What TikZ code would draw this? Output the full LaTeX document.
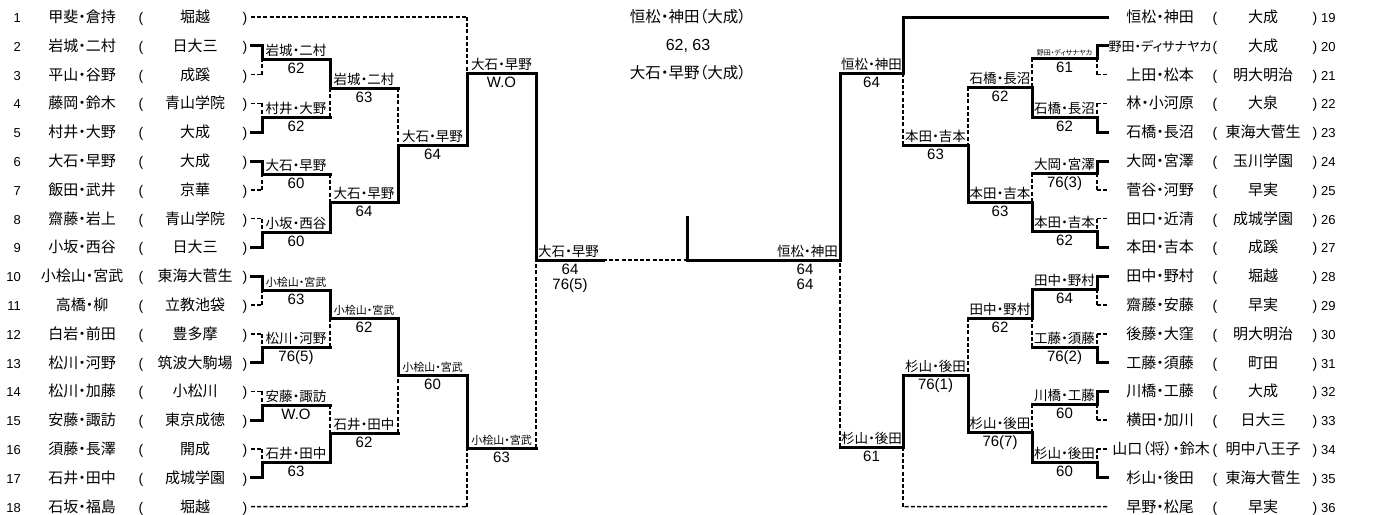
\documentclass[tikz,border=0pt]{standalone}
\usepackage{fontspec}
\setmainfont{Liberation Sans}
\newfontfamily\jp[RawFeature=+palt]{Noto Sans CJK JP}

\tikzset{
  win/.style={line width=3pt, line cap=rect},
  lose/.style={line width=1.6pt, dash pattern=on 4pt off 2.2pt},
  rowtxt/.style={font=\jp\fontsize{15}{17}\selectfont, inner sep=0pt, anchor=base},
  rowpar/.style={font=\fontsize{14}{16}\selectfont, inner sep=0pt, anchor=base},
  num/.style={font=\fontsize{13}{15}\selectfont, inner sep=0pt},
  lab/.style={font=\jp\fontsize{13.5}{15}\selectfont, inner sep=0pt, anchor=south, yshift=2pt},
  slab/.style={lab, font=\jp\fontsize{11}{12}\selectfont},
  tlab/.style={lab, font=\jp\fontsize{7}{8}\selectfont},
  sc/.style={font=\fontsize{15}{15}\selectfont, inner sep=0pt, anchor=north, yshift=-3.5pt, align=center},
  ttl/.style={font=\jp\fontsize{15.5}{17}\selectfont, inner sep=0pt, anchor=base},
}

\newcommand\lrow[3]{%
  \pgfmathsetmacro\ry{17+(#1-1)*28.8}%
  \pgfmathsetmacro\rb{\ry+5.5}%
  \node[num, anchor=base east] (n#1) at (21,\rb) {#1};
  \node[rowtxt] (nm#1) at (82,\rb) {#2};
  \node[rowpar] (op#1) at (141,\rb) {(};
  \node[rowtxt] (sch#1) at (195,\rb) {#3};
  \node[rowpar] (cp#1) at (245,\rb) {)};
  \coordinate (p#1) at (251,\ry);
  \coordinate (q#1) at (262,\ry);
}
\newcommand\rrow[4][1160]{%
  \pgfmathsetmacro\ry{17+(#2-19)*28.8}%
  \pgfmathsetmacro\rb{\ry+5.5}%
  \node[rowtxt] (nm#2) at (#1,\rb) {#3};
  \node[rowpar] (op#2) at (1215,\rb) {(};
  \node[rowtxt] (sch#2) at (1263,\rb) {#4};
  \node[rowpar] (cp#2) at (1315,\rb) {)};
  \node[num, anchor=base west] (n#2) at (1321,\rb) {#2};
  \coordinate (p#2) at (1107,\ry);
  \coordinate (q#2) at (1097,\ry);
}
\newcommand\mt[9]{%
  \coordinate (#1s) at (#2,#4);
  \coordinate (#1e) at (#3,#4);
  \draw[win] (#5) -- (#1s) -- (#1e);
  \draw[lose] (#6) -- (#1s);
  \node[#7] (#1l) at ({(#2+#3)/2},#4) {#8};
  \node[sc] (#1c) at ({(#2+#3)/2},#4) {#9};
}

\begin{document}
\begin{tikzpicture}[x=1pt,y=-1pt]
\fill[white] (0,0) rectangle (1386,514);
\useasboundingbox (0,0) rectangle (1386,514);

% left entries
\lrow{1}{甲斐・倉持}{堀越}
\lrow{2}{岩城・二村}{日大三}
\lrow{3}{平山・谷野}{成蹊}
\lrow{4}{藤岡・鈴木}{青山学院}
\lrow{5}{村井・大野}{大成}
\lrow{6}{大石・早野}{大成}
\lrow{7}{飯田・武井}{京華}
\lrow{8}{齋藤・岩上}{青山学院}
\lrow{9}{小坂・西谷}{日大三}
\lrow{10}{小桧山・宮武}{東海大菅生}
\lrow{11}{高橋・柳}{立教池袋}
\lrow{12}{白岩・前田}{豊多摩}
\lrow{13}{松川・河野}{筑波大駒場}
\lrow{14}{松川・加藤}{小松川}
\lrow{15}{安藤・諏訪}{東京成徳}
\lrow{16}{須藤・長澤}{開成}
\lrow{17}{石井・田中}{成城学園}
\lrow{18}{石坂・福島}{堀越}

% right entries
\rrow{19}{恒松・神田}{大成}
\rrow[1160]{20}{\fontsize{13}{16}\selectfont 野田・ディサナヤカ}{大成}
\rrow{21}{上田・松本}{明大明治}
\rrow{22}{林・小河原}{大泉}
\rrow{23}{石橋・長沼}{東海大菅生}
\rrow{24}{大岡・宮澤}{玉川学園}
\rrow{25}{菅谷・河野}{早実}
\rrow{26}{田口・近清}{成城学園}
\rrow{27}{本田・吉本}{成蹊}
\rrow{28}{田中・野村}{堀越}
\rrow{29}{齋藤・安藤}{早実}
\rrow{30}{後藤・大窪}{明大明治}
\rrow{31}{工藤・須藤}{町田}
\rrow{32}{川橋・工藤}{大成}
\rrow{33}{横田・加川}{日大三}
\rrow[1161]{34}{山口（将）・鈴木}{明中八王子}
\rrow{35}{杉山・後田}{東海大菅生}
\rrow{36}{早野・松尾}{早実}

% title
\node[ttl] (t1) at (688,22.5) {恒松・神田（大成）};
\node[ttl, font=\fontsize{16}{18}\selectfont] (t2) at (688,50.5) {62, 63};
\node[ttl] (t3) at (688,78.5) {大石・早野（大成）};

% left stubs
\foreach \w/\l in {2/3,5/4,6/7,9/8,10/11,13/12,15/14,17/16}{
  \draw[win] (p\w) -- (q\w);
  \draw[lose] (p\l) -- (q\l);
}
% left round 1
\mt{L1a}{262}{330}{59}{q2}{q3}{lab}{岩城・二村}{62}
\mt{L1b}{262}{330}{117}{q5}{q4}{lab}{村井・大野}{62}
\mt{L1c}{262}{330}{174}{q6}{q7}{lab}{大石・早野}{60}
\mt{L1d}{262}{330}{232}{q9}{q8}{lab}{小坂・西谷}{60}
\mt{L1e}{262}{330}{290}{q10}{q11}{slab}{小桧山・宮武}{63}
\mt{L1f}{262}{330}{347}{q13}{q12}{lab}{松川・河野}{76(5)}
\mt{L1g}{262}{330}{405}{q15}{q14}{lab}{安藤・諏訪}{W.O}
\mt{L1h}{262}{330}{462}{q17}{q16}{lab}{石井・田中}{63}
% left round 2
\mt{L2a}{330}{398}{88}{L1ae}{L1be}{lab}{岩城・二村}{63}
\mt{L2b}{330}{398}{202}{L1de}{L1ce}{lab}{大石・早野}{64}
\mt{L2c}{330}{398}{318}{L1ee}{L1fe}{slab}{小桧山・宮武}{62}
\mt{L2d}{330}{398}{433}{L1he}{L1ge}{lab}{石井・田中}{62}
% left round 3
\mt{L3a}{398}{467}{145}{L2be}{L2ae}{lab}{大石・早野}{64}
\mt{L3b}{398}{467}{375}{L2ce}{L2de}{slab}{小桧山・宮武}{60}
% left round 4
\coordinate (c1) at (467,17);
\coordinate (c18) at (467,506.6);
\draw[lose] (p1) -- (c1);
\draw[lose] (p18) -- (c18);
\mt{L4a}{467}{536}{73}{L3ae}{c1}{lab}{大石・早野}{W.O}
\mt{L4b}{467}{536}{448}{L3be}{c18}{slab}{小桧山・宮武}{63}

% right stubs
\foreach \w/\l in {20/21,23/22,24/25,27/26,28/29,31/30,32/33,35/34}{
  \draw[win] (p\w) -- (q\w);
  \draw[lose] (p\l) -- (q\l);
}
% right round 1
\mt{R1a}{1097}{1032}{58}{q20}{q21}{tlab}{野田・ディサナヤカ}{61}
\mt{R1b}{1097}{1032}{117}{q23}{q22}{lab}{石橋・長沼}{62}
\mt{R1c}{1097}{1032}{173}{q24}{q25}{lab}{大岡・宮澤}{76(3)}
\mt{R1d}{1097}{1032}{231}{q27}{q26}{lab}{本田・吉本}{62}
\mt{R1e}{1097}{1032}{289}{q28}{q29}{lab}{田中・野村}{64}
\mt{R1f}{1097}{1032}{347}{q31}{q30}{lab}{工藤・須藤}{76(2)}
\mt{R1g}{1097}{1032}{404}{q32}{q33}{lab}{川橋・工藤}{60}
\mt{R1h}{1097}{1032}{462}{q35}{q34}{lab}{杉山・後田}{60}
% right round 2
\mt{R2a}{1032}{968}{87}{R1be}{R1ae}{lab}{石橋・長沼}{62}
\mt{R2b}{1032}{968}{202}{R1de}{R1ce}{lab}{本田・吉本}{63}
\mt{R2c}{1032}{968}{318}{R1ee}{R1fe}{lab}{田中・野村}{62}
\mt{R2d}{1032}{968}{432}{R1he}{R1ge}{lab}{杉山・後田}{76(7)}
% right round 3
\mt{R3a}{968}{903}{145}{R2be}{R2ae}{lab}{本田・吉本}{63}
\mt{R3b}{968}{903}{375}{R2de}{R2ce}{lab}{杉山・後田}{76(1)}
% right round 4
\coordinate (c19) at (903,17);
\coordinate (c36) at (903,506.6);
\draw[win] (p19) -- (c19);
\draw[lose] (p36) -- (c36);
\mt{R4a}{903}{840}{73}{c19}{R3ae}{lab}{恒松・神田}{64}
\mt{R4b}{903}{840}{447}{R3be}{c36}{lab}{杉山・後田}{61}

% semifinals and final
\coordinate (SLs) at (536,260);
\coordinate (SLm) at (603,260);
\coordinate (F) at (687,260);
\coordinate (Ft) at (687,217);
\coordinate (SRs) at (840,260);
\draw[lose] (L4be) -- (SLs);
\draw[lose] (SLm) -- (F);
\draw[win] (L4ae) -- (SLs) -- (SLm);
\draw[lose] (R4be) -- (SRs);
\draw[win] (R4ae) -- (SRs) -- (F) -- (Ft);
\node[lab, anchor=south west] (SLl) at (538,260) {大石・早野};
\node[sc] (SLc) at (570,260) {64\\76(5)};
\node[lab, anchor=south east] (SRl) at (838,260) {恒松・神田};
\node[sc] (SRc) at (805,260) {64\\64};
\end{tikzpicture}
\end{document}
